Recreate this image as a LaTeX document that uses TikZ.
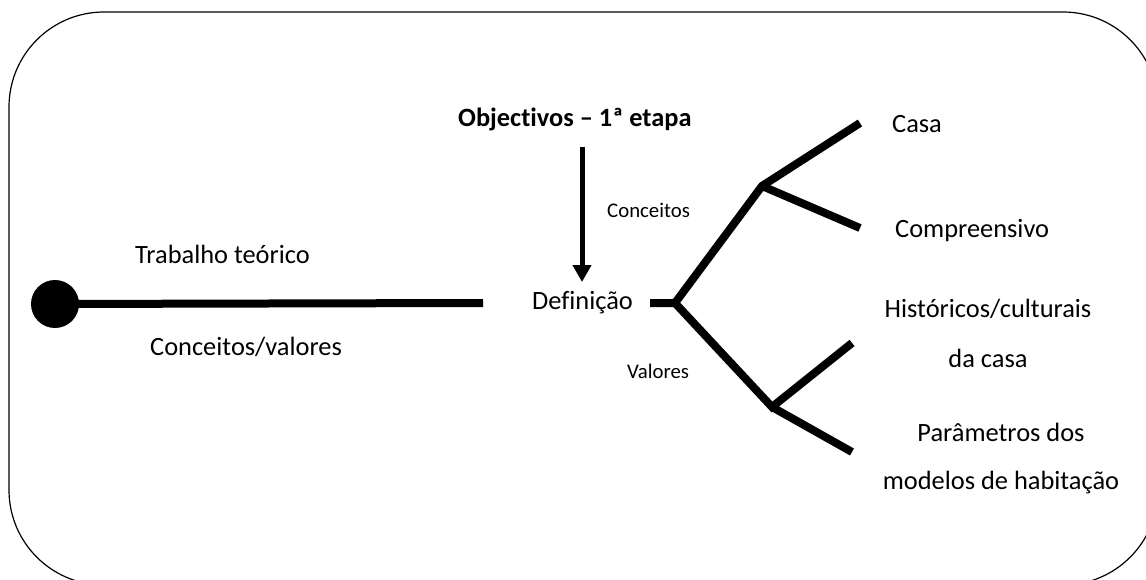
\documentclass[tikz,border=0pt]{standalone}
\usepackage{fontspec}
\setmainfont{Carlito}[Ligatures=NoCommon]
\usetikzlibrary{arrows.meta}
\begin{document}
\begin{tikzpicture}[x=1pt,y=-1pt,
  lbl/.style={inner sep=0pt, anchor=base west, font=\fontsize{26.4}{50}\selectfont},
  lblc/.style={inner sep=0pt, anchor=base, align=center},
  smalllbl/.style={inner sep=0pt, anchor=base west, font=\fontsize{20.8}{25}\selectfont},
  branch/.style={line width=8pt, line cap=butt, line join=miter},
  frame/.style={line width=1.2pt, rounded corners=95pt}]
\useasboundingbox (0,0) rectangle (1146,580);
\begin{scope}
  \clip (0,0) rectangle (1146,580);
  \draw[frame] (9,12) rectangle (1158,585);
\end{scope}

% left part
\coordinate (lend) at (483,303);
\node[circle, fill=black, minimum size=48pt, inner sep=0pt] (dot) at (55,304) {};
\draw[branch] (dot.center) -- (lend);
\node[lbl] (trab) at (135,264) {Trabalho teórico};
\node[lbl] (convals) at (150,355) {Conceitos/valores};

% objectives and arrow
\node[lbl, font=\fontsize{26.4}{32}\selectfont\bfseries] (obj) at (458,127) {Objectivos – 1ª etapa};
\coordinate (atop) at (582,147);
\coordinate (atip) at (582,282);
\draw[line width=5pt, -{Triangle[width=18pt,length=17pt]}] (atop) -- (atip);
\node[smalllbl] (conc) at (607,218) {Conceitos};
\node[lbl] (def) at (532,309) {Definição};
\node[smalllbl] (val) at (627,378) {Valores};

% tree
\coordinate (s0) at (650,303);
\coordinate (j0) at (675,303);
\coordinate (j1) at (762,186);
\coordinate (j2) at (772,407);
\coordinate (e1) at (860,123);
\coordinate (e2) at (860,228);
\coordinate (e3) at (852,343);
\coordinate (e4) at (852,452);
\draw[branch] (s0) -- (j0) -- (j1) -- (e1);
\draw[branch] (j1) -- (e2);
\draw[branch] (j0) -- (j2) -- (e3);
\draw[branch] (j2) -- (e4);

\node[lbl] (casa) at (892,133) {Casa};
\node[lbl] (comp) at (895,237) {Compreensivo};
\node[lblc, font=\fontsize{26.4}{50}\selectfont] (hist) at (988,367) {Históricos/culturais\\da casa};
\node[lblc, font=\fontsize{26.4}{48}\selectfont] (param) at (1001,489) {Parâmetros dos\\modelos de habitação};
\end{tikzpicture}
\end{document}
